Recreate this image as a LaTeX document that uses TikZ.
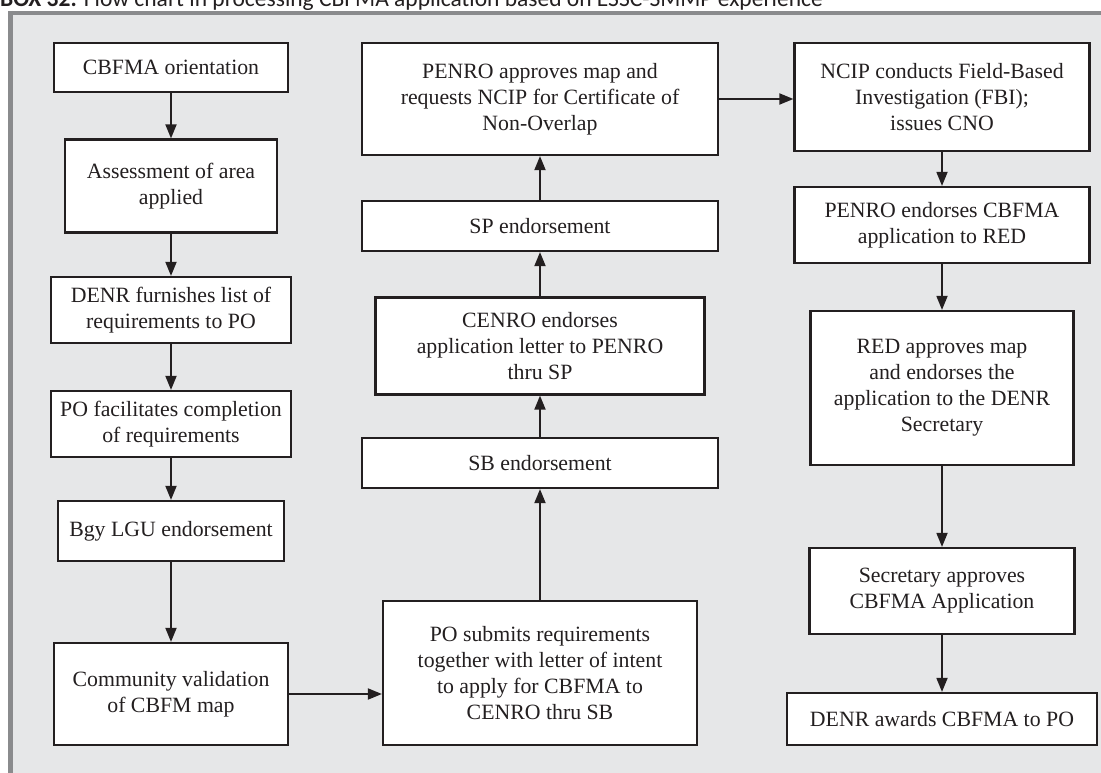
\documentclass[tikz,border=0pt]{standalone}
\usepackage{fontspec}
\setmainfont{Liberation Serif}
\newfontfamily\capfont{Carlito}
\usetikzlibrary{arrows.meta}
\definecolor{boxgray}{HTML}{E6E7E8}
\definecolor{framegray}{HTML}{8A8B8D}
\definecolor{ink}{HTML}{231F20}

\begin{document}
\begin{tikzpicture}[x=1pt,y=-1pt,
  box/.style={draw=ink,line width=2.2pt,fill=white,text=ink,align=center,inner sep=0pt,
    font=\fontsize{21.8}{26}\selectfont},
  arr/.style={draw=ink,line width=1.8pt,-{Triangle[length=14pt,width=11pt]}}]
\useasboundingbox (0,0) rectangle (1101,773);
\clip (0,0) rectangle (1101,773);
\fill[boxgray] (8,12) rectangle (1101,773);
\draw[framegray,line width=4pt] (8,13) -- (1101,13);
\draw[framegray,line width=5pt] (10.5,11) -- (10.5,773);
\node[anchor=base west,inner sep=0pt,text=ink,font=\capfont\fontsize{23.5}{26}\selectfont] (cap) at (0,7)
  {\textbf{BOX 32.} Flow chart in processing CBFMA application based on ESSC-SMMP experience};

% left column
\node[box,minimum width=234pt,minimum height=49pt] (1) at (171,67.5) {CBFMA orientation};
\node[box,minimum width=212pt,minimum height=93pt] (2) at (171,186) {Assessment of area\\applied};
\node[box,minimum width=240pt,minimum height=66pt] (3) at (171,310) {DENR furnishes list of\\requirements to PO};
\node[box,minimum width=240pt,minimum height=66pt] (4) at (171,424) {PO facilitates completion\\of requirements};
\node[box,minimum width=226pt,minimum height=60pt] (5) at (171,531) {Bgy LGU endorsement};
\node[box,minimum width=234pt,minimum height=102pt] (6) at (171,694) {Community validation\\of CBFM map};

% middle column
\node[box,minimum width=314pt,minimum height=144pt] (7) at (540,673) {PO submits requirements\\together with letter of intent\\to apply for CBFMA to\\CENRO thru SB};
\node[box,minimum width=356pt,minimum height=50pt] (8) at (540,463) {SB endorsement};
\node[box,minimum width=329pt,minimum height=97pt] (9) at (540,346) {CENRO endorses\\application letter to PENRO\\thru SP};
\node[box,minimum width=356pt,minimum height=50pt] (10) at (540,226) {SP endorsement};
\node[box,minimum width=356pt,minimum height=112pt] (11) at (540,99) {PENRO approves map and\\requests NCIP for Certificate of\\Non-Overlap};

% right column
\node[box,minimum width=295pt,minimum height=108pt] (12) at (942,97) {NCIP conducts Field-Based\\Investigation (FBI);\\issues CNO};
\node[box,minimum width=295pt,minimum height=76pt] (13) at (942,225) {PENRO endorses CBFMA\\application to RED};
\node[box,minimum width=263pt,minimum height=154pt] (14) at (942,388) {RED approves map\\and endorses the\\application to the DENR\\Secretary};
\node[box,minimum width=265pt,minimum height=86pt] (15) at (942,591) {Secretary approves\\CBFMA Application};
\node[box,minimum width=310pt,minimum height=52pt] (16) at (942,719) {DENR awards CBFMA to PO};

\draw[arr] (1) -- (2);
\draw[arr] (2) -- (3);
\draw[arr] (3) -- (4);
\draw[arr] (4) -- (5);
\draw[arr] (5) -- (6);
\draw[arr] (6.east) -- (6.east -| 7.west);
\draw[arr] (7) -- (8);
\draw[arr] (8) -- (9);
\draw[arr] (9) -- (10);
\draw[arr] (10) -- (11);
\draw[arr] (11.east) -- (11.east -| 12.west);
\draw[arr] (12) -- (13);
\draw[arr] (13) -- (14);
\draw[arr] (14) -- (15);
\draw[arr] (15) -- (16);
\end{tikzpicture}
\end{document}
